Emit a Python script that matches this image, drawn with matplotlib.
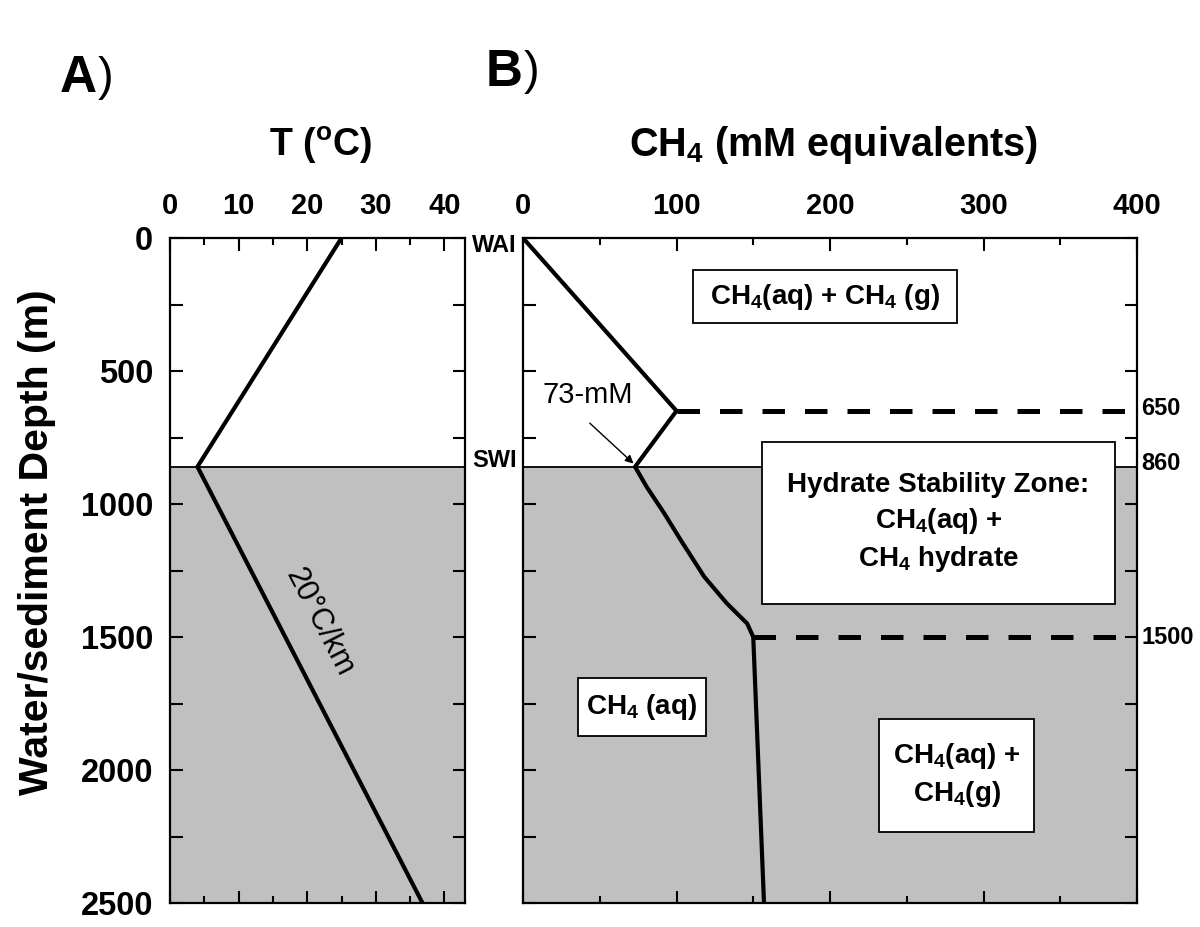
import matplotlib.pyplot as plt
from matplotlib.patches import Rectangle
from matplotlib.ticker import MultipleLocator

plt.rcParams['font.family'] = ['Liberation Sans', 'DejaVu Sans']
plt.rcParams['mathtext.default'] = 'regular'

# panel A: temperature profile
t_depth = [0, 860, 2500]
t_vals = [25, 4, 36.8]

# panel B: CH4 solubility profile
ch4_depth = [0, 650, 860, 935, 1035, 1135, 1273, 1373, 1449, 1500, 2500]
ch4_vals = [0, 100, 73, 80.5, 92, 102.7, 118, 132.7, 146, 150, 157]

swi = 860
boundaries = [650, 1500]
boundary_start = [100, 150]

gray = '#c0c0c0'

fig = plt.figure(figsize=(12, 9.27), dpi=100)
axA = fig.add_axes([170/1200, 1-903/927, 295/1200, 665/927])
axB = fig.add_axes([523/1200, 1-903/927, 614/1200, 665/927])

for ax in (axA, axB):
    ax.set_ylim(2500, 0)
    ax.axhspan(swi, 2500, color=gray, zorder=0)
    ax.axhline(swi, color='black', lw=1.3, zorder=1)
    ax.yaxis.set_major_locator(MultipleLocator(500))
    ax.yaxis.set_minor_locator(MultipleLocator(250))
    ax.tick_params(which='both', direction='in', top=True, bottom=True,
                   left=True, right=True, labeltop=True, labelbottom=False,
                   width=1.5)
    ax.tick_params(which='major', length=9)
    ax.tick_params(axis='x', which='major', pad=13)
    ax.tick_params(axis='x', which='minor', length=5)
    ax.tick_params(axis='y', which='minor', length=9)
    for s in ax.spines.values():
        s.set_linewidth(1.6)

# ---- A
axA.plot(t_vals, t_depth, color='black', lw=3)
axA.set_xlim(0, 43)
axA.xaxis.set_major_locator(MultipleLocator(10))
axA.xaxis.set_minor_locator(MultipleLocator(5))
axA.tick_params(axis='y', labelsize=23.5, pad=12)
axA.tick_params(axis='x', labelsize=21)
for lab in axA.get_xticklabels() + axA.get_yticklabels():
    lab.set_fontweight('bold')
axA.text(21.8, 1444, '20°C/km', rotation=-62.7, fontsize=22,
         ha='center', va='center', rotation_mode='anchor')
fig.text(37/1200, 1-542/927, 'Water/sediment Depth (m)', rotation=90,
         ha='center', va='center', fontsize=29.5, fontweight='bold')

# ---- B
axB.plot(ch4_vals, ch4_depth, color='black', lw=3, zorder=3)
for d, x0 in zip(boundaries, boundary_start):
    axB.plot([x0, 400], [d, d], color='black', lw=3.6, dashes=(4.5, 4), zorder=3)
axB.set_xlim(0, 400)
axB.xaxis.set_major_locator(MultipleLocator(100))
axB.xaxis.set_minor_locator(MultipleLocator(50))
axB.tick_params(labelleft=False, labelsize=21)
for lab in axB.get_xticklabels():
    lab.set_fontweight('bold')

boxes = [
    ((110.7, 120), 172.3, 200, 'CH$_4$(aq) + CH$_4$ (g)'),
    ((155.7, 767), 230, 609, 'Hydrate Stability Zone:\nCH$_4$(aq) +\nCH$_4$ hydrate'),
    ((36, 1653), 83, 219, 'CH$_4$ (aq)'),
    ((232, 1807), 101, 426, 'CH$_4$(aq) +\nCH$_4$(g)'),
]
for (x0, y0), w, h, txt in boxes:
    axB.add_patch(Rectangle((x0, y0), w, h, facecolor='white', edgecolor='black',
                            lw=1.3, zorder=4))
    axB.text(x0 + w/2, y0 + h/2, txt, ha='center', va='center', fontsize=20,
             fontweight='bold', zorder=5, linespacing=1.35)

axB.text(42, 590, '73-mM', fontsize=21, ha='center', va='center', zorder=5)
axB.annotate('', xy=(72, 848), xytext=(43.5, 696), zorder=5,
             arrowprops=dict(arrowstyle='-|>', color='black', lw=1,
                             shrinkA=0, shrinkB=0, mutation_scale=12))

axB.text(-4, 30, 'WAI', ha='right', va='center', fontsize=17, fontweight='bold')
axB.text(-4, 835, 'SWI', ha='right', va='center', fontsize=17, fontweight='bold')
for d, lab in [(640, '650'), (846, '860'), (1500, '1500')]:
    axB.text(403, d, lab, ha='left', va='center', fontsize=17, fontweight='bold',
             clip_on=False)

# titles and panel letters
fig.text(320/1200, 1-145/927, 'T ($^o$C)', ha='center', va='center',
         fontsize=27, fontweight='bold')
fig.text(833/1200, 1-145/927, 'CH$_4$ (mM equivalents)', ha='center', va='center',
         fontsize=28.5, fontweight='bold')
fig.text(60/1200, 1-78/927, 'A', ha='left', va='center', fontsize=37, fontweight='bold')
fig.text(98/1200, 1-78/927, ')', ha='left', va='center', fontsize=34)
fig.text(486/1200, 1-72/927, 'B', ha='left', va='center', fontsize=37, fontweight='bold')
fig.text(524/1200, 1-72/927, ')', ha='left', va='center', fontsize=34)

fig.savefig('out.png', dpi=100)
